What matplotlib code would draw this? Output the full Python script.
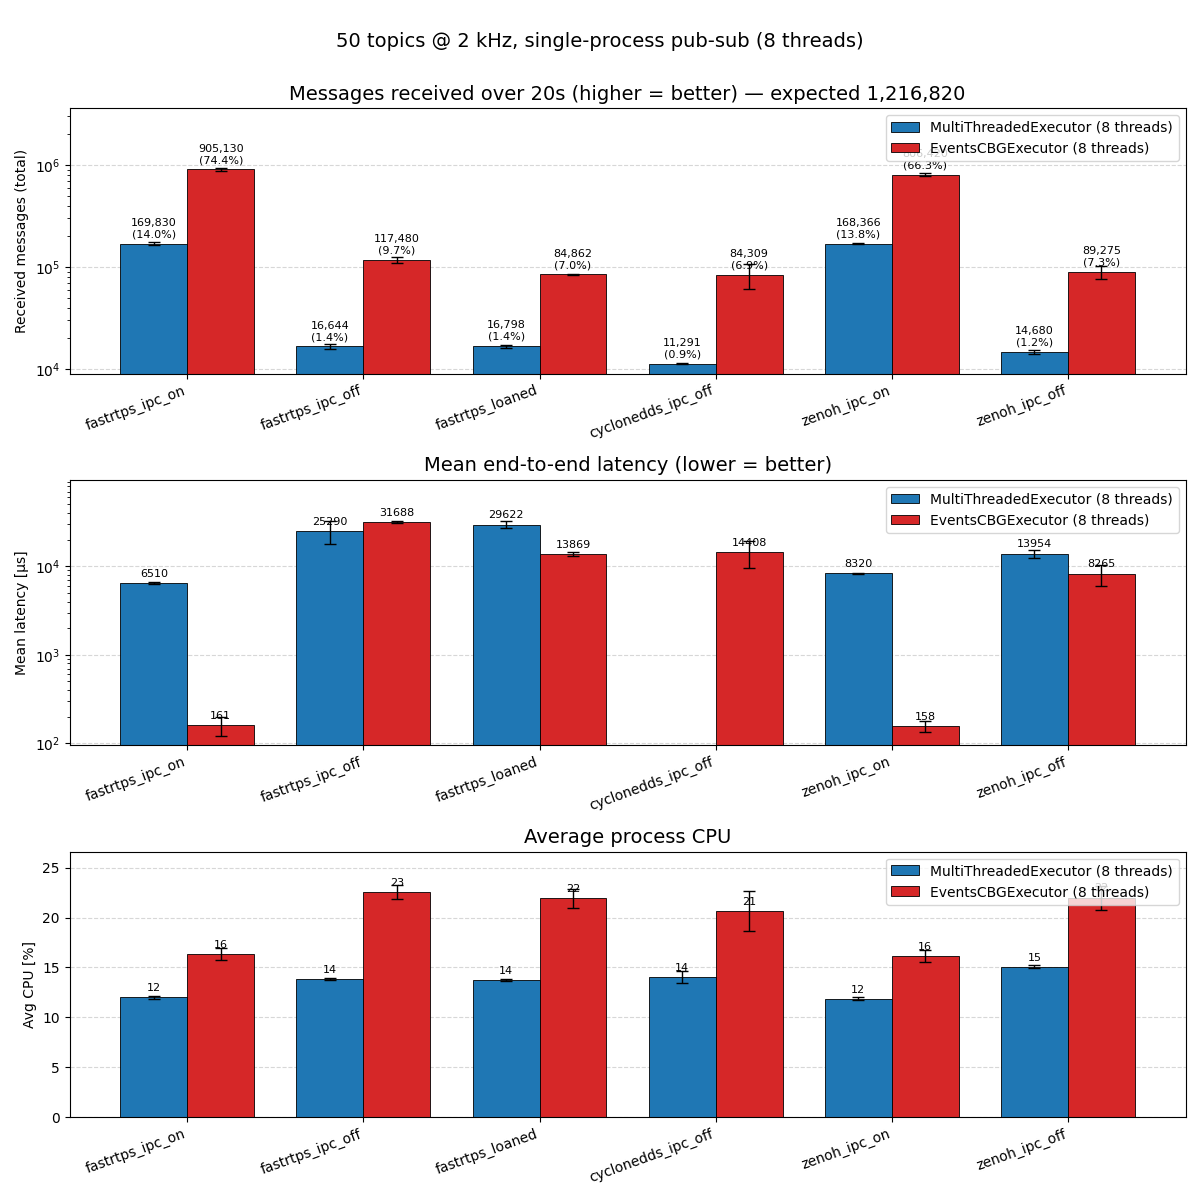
import numpy as np
import matplotlib
matplotlib.use("Agg")
import matplotlib.pyplot as plt

configs = ["fastrtps_ipc_on", "fastrtps_ipc_off", "fastrtps_loaned",
           "cyclonedds_ipc_off", "zenoh_ipc_on", "zenoh_ipc_off"]
series_names = ["MultiThreadedExecutor (8 threads)", "EventsCBGExecutor (8 threads)"]
colors = ["#1f77b4", "#d62728"]
expected = 1216820

# Messages received (total)
msgs_mt = [169830, 16644, 16798, 11291, 168366, 14680]
msgs_mt_err = [7000, 800, 600, 150, 2000, 700]
msgs_cbg = [905130, 117480, 84862, 84309, 806420, 89275]
msgs_cbg_err = [30000, 7000, 1000, 24000, 20000, 12500]

# Mean latency [us]
lat_mt = [6510, 25290, 29622, np.nan, 8320, 13954]
lat_mt_err = [150, 7500, 2600, np.nan, 100, 1500]
lat_cbg = [161, 31688, 13869, 14408, 158, 8265]
lat_cbg_err = [40, 1200, 700, 4800, 22, 2200]

# Avg CPU [%]
cpu_mt = [12.0, 13.8, 13.7, 14.05, 11.85, 15.05]
cpu_mt_err = [0.12, 0.1, 0.1, 0.62, 0.15, 0.15]
cpu_cbg = [16.35, 22.55, 21.95, 20.65, 16.15, 22.0]
cpu_cbg_err = [0.58, 0.67, 0.95, 2.0, 0.57, 1.2]

fig, axes = plt.subplots(3, 1, figsize=(12, 12), dpi=100)
x = np.arange(len(configs))
w = 0.38


def draw(ax, mt, mt_err, cbg, cbg_err, fmt, title, ylabel, log, ylim):
    for i, (vals, errs) in enumerate([(mt, mt_err), (cbg, cbg_err)]):
        pos = x + (i - 0.5) * w
        ax.bar(pos, vals, w, yerr=errs, capsize=4, color=colors[i],
               edgecolor="black", linewidth=0.6, label=series_names[i],
               error_kw=dict(elinewidth=1, ecolor="black"))
        for p, v in zip(pos, vals):
            if v is None or (isinstance(v, float) and np.isnan(v)):
                continue
            ax.annotate(fmt(v), (p, v), xytext=(0, 3), textcoords="offset points",
                        ha="center", va="bottom", fontsize=8)
    if log:
        ax.set_yscale("log")
    ax.set_ylim(*ylim)
    ax.set_title(title, fontsize=14)
    ax.set_ylabel(ylabel)
    ax.set_xticks(x)
    ax.set_xticklabels(configs, rotation=20, ha="right")
    ax.grid(axis="y", linestyle="--", alpha=0.5)
    ax.set_axisbelow(True)
    ax.legend(loc="upper right")


draw(axes[0], msgs_mt, msgs_mt_err, msgs_cbg, msgs_cbg_err,
     lambda v: f"{v:,.0f}\n({v / expected * 100:.1f}%)",
     f"Messages received over 20s (higher = better) \u2014 expected {expected:,}",
     "Received messages (total)", True, (9033, 3.62e6))
draw(axes[1], lat_mt, lat_mt_err, lat_cbg, lat_cbg_err,
     lambda v: f"{v:.0f}",
     "Mean end-to-end latency (lower = better)",
     "Mean latency [\u00b5s]", True, (94.8, 9.5e4))
draw(axes[2], cpu_mt, cpu_mt_err, cpu_cbg, cpu_cbg_err,
     lambda v: f"{v:.0f}",
     "Average process CPU",
     "Avg CPU [%]", False, (0, 26.6))

fig.suptitle("50 topics @ 2 kHz, single-process pub-sub (8 threads)", fontsize=14, y=0.973)
fig.subplots_adjust(left=0.058, right=0.988, top=0.91, bottom=0.069, hspace=0.40)
fig.savefig("out.png", dpi=100)
